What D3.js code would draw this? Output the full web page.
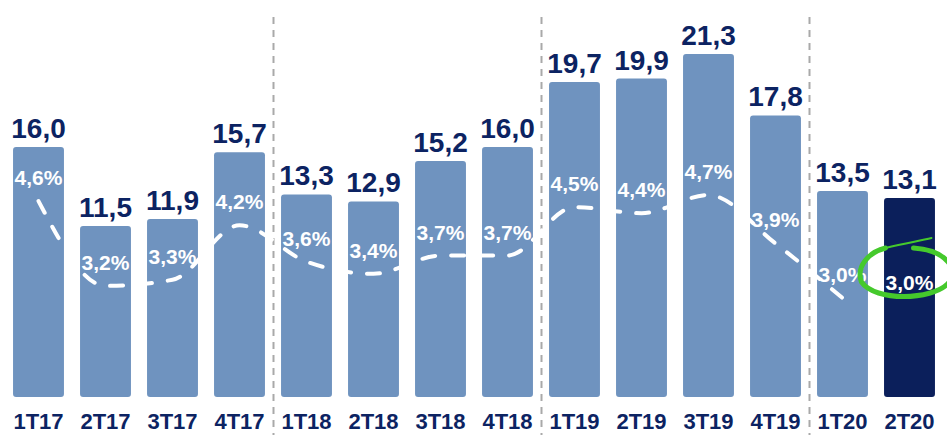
<!DOCTYPE html>
<html>
<head>
<meta charset="utf-8">
<script src="https://cdn.jsdelivr.net/npm/d3@7"></script>
<style>
  html, body { margin: 0; padding: 0; background: #fff; }
  svg { display: block; font-family: "Liberation Sans", Arial, sans-serif; }
</style>
</head>
<body>
<svg id="chart" width="947" height="435"></svg>
<script>
// data
const quarters = ['1T17','2T17','3T17','4T17','1T18','2T18','3T18','4T18','1T19','2T19','3T19','4T19','1T20','2T20'];
const values   = [16.0, 11.5, 11.9, 15.7, 13.3, 12.9, 15.2, 16.0, 19.7, 19.9, 21.3, 17.8, 13.5, 13.1];
const pcts     = [4.6, 3.2, 3.3, 4.2, 3.6, 3.4, 3.7, 3.7, 4.5, 4.4, 4.7, 3.9, 3.0, 3.0];
const yearBreaks = ['1T18','1T19','1T20'];

const NAVY = '#0c2362';
const BAR = '#6f93bf';
const BAR_LAST = '#0b1f5b';
const GREEN = '#45c92c';
const fmt = v => v.toFixed(1).replace('.', ',');

const svg = d3.select('#chart');
const W = 947, H = 435;
const barBottom = 397;

const x = d3.scaleBand().domain(quarters).range([5, 943]).paddingInner(0.24).paddingOuter(0.12);
const y = d3.scaleLinear().domain([0, 21.3]).range([428, 54]);
const yp = d3.scaleLinear().domain([3.0, 4.7]).range([298, 195]);
const cx = q => x(q) + x.bandwidth() / 2;
const lastIdx = quarters.length - 1;

// year separators
yearBreaks.forEach(q => {
  const sx = Math.round(x(q) - x.step() * x.paddingInner() / 2) + 0.5;
  svg.append('line')
    .attr('x1', sx).attr('x2', sx)
    .attr('y1', 17).attr('y2', H)
    .attr('stroke', '#a9a9a9')
    .attr('stroke-width', 2)
    .attr('stroke-dasharray', '7,6');
});

// bars
svg.selectAll('.bar')
  .data(quarters)
  .enter().append('rect')
    .attr('class', 'bar')
    .attr('x', d => x(d))
    .attr('y', (d, i) => y(values[i]))
    .attr('width', x.bandwidth())
    .attr('height', (d, i) => barBottom - y(values[i]))
    .attr('rx', 3)
    .attr('fill', (d, i) => i === lastIdx ? BAR_LAST : BAR);

// value labels
svg.selectAll('.val')
  .data(quarters)
  .enter().append('text')
    .attr('x', d => cx(d))
    .attr('y', (d, i) => y(values[i]) - 9)
    .attr('text-anchor', 'middle')
    .attr('font-size', 28)
    .attr('font-weight', 'bold')
    .attr('fill', NAVY)
    .text((d, i) => fmt(values[i]));

// dashed line (ends at 1T20)
const linePts = quarters.slice(0, -1).map((q, i) => [cx(q), yp(pcts[i])]);
svg.append('path')
  .attr('d', d3.line().curve(d3.curveMonotoneX)(linePts))
  .attr('fill', 'none')
  .attr('stroke', '#fff')
  .attr('stroke-width', 4)
  .attr('stroke-linecap', 'round')
  .attr('stroke-dasharray', '13,16');

// pct labels
svg.selectAll('.pct')
  .data(quarters)
  .enter().append('text')
    .attr('x', d => cx(d))
    .attr('y', (d, i) => yp(pcts[i]) + (i === lastIdx ? -8 : -16))
    .attr('text-anchor', 'middle')
    .attr('font-size', 21)
    .attr('font-weight', 'bold')
    .attr('fill', '#fff')
    .text((d, i) => fmt(pcts[i]) + '%');

// hand-drawn highlight round the last quarter
const ex = cx(quarters[lastIdx]) - 4, ey = yp(pcts[lastIdx]) - 26;
const hl = svg.append('g').attr('transform', `translate(${ex},${ey})`);
hl.append('path')
  .attr('d', 'M 8,-24 C 40,-22 56,-2 42,12 C 26,28 -30,30 -44,10 C -50,-6 -36,-20 -20,-24')
  .attr('fill', 'none')
  .attr('stroke', GREEN)
  .attr('stroke-width', 5)
  .attr('stroke-linecap', 'round');
hl.append('path')
  .attr('d', 'M -20,-24 C 0,-29 14,-31 26,-34')
  .attr('fill', 'none')
  .attr('stroke', GREEN)
  .attr('stroke-width', 2)
  .attr('stroke-linecap', 'round');

// x axis labels
svg.selectAll('.xl')
  .data(quarters)
  .enter().append('text')
    .attr('x', d => cx(d))
    .attr('y', 429)
    .attr('text-anchor', 'middle')
    .attr('font-size', 22)
    .attr('font-weight', 'bold')
    .attr('fill', NAVY)
    .text(d => d);
</script>
</body>
</html>
